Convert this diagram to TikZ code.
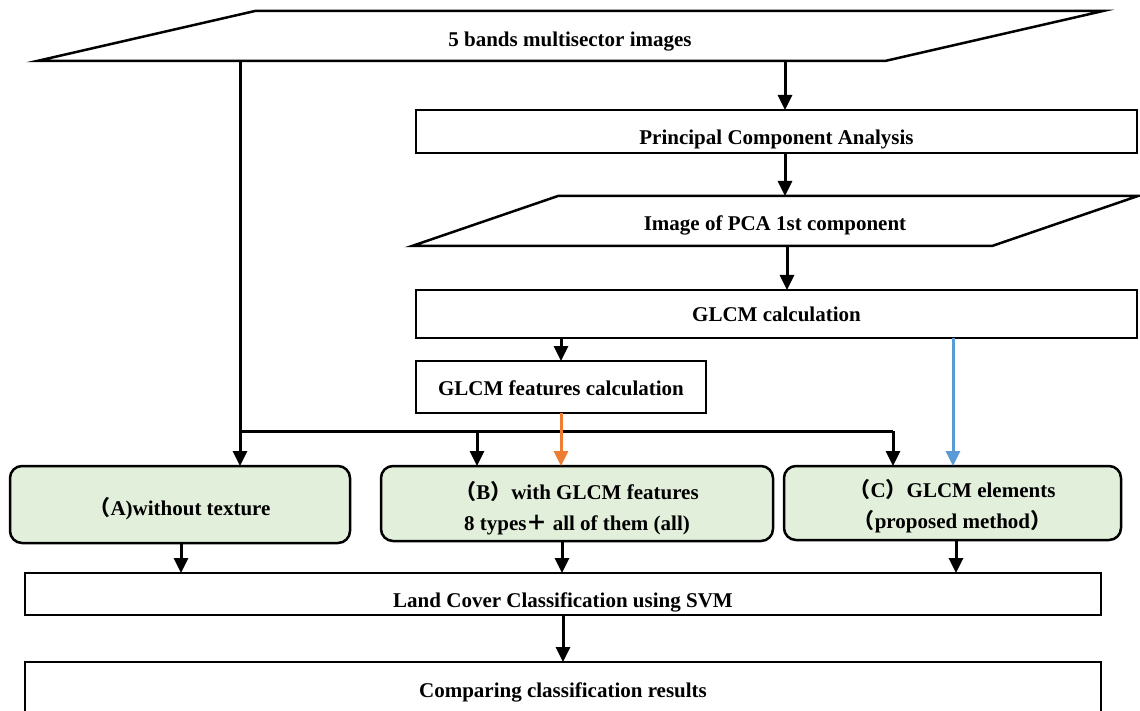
\documentclass[tikz,border=0pt]{standalone}
\usepackage{fontspec}
\setmainfont{Liberation Serif}
\newfontfamily\cjk{Noto Sans CJK SC}
\usepackage{xcolor}
\usepackage{tikz}
\usetikzlibrary{calc,arrows.meta}

\definecolor{boxgreen}{HTML}{E2EFDA}
\definecolor{featorange}{HTML}{ED7D31}
\definecolor{elemblue}{HTML}{5B9BD5}

\begin{document}
\begin{tikzpicture}[x=1pt, y=-1pt, line width=2.5pt,
    font=\fontsize{21}{31}\selectfont\bfseries,
    arr/.style={-{Triangle[length=15pt,width=14pt]}, line width=3pt},
    io/.style={outer sep=0pt, inner sep=0pt, minimum height=50pt},
    stepbox/.style={draw, outer sep=0pt, inner sep=0pt},
    method/.style={draw, fill=boxgreen, rounded corners=12pt, outer sep=0pt, inner sep=0pt},
    every label/.style={align=center, inner sep=0pt}]
  \useasboundingbox (0,0) rectangle (1140,711);

  % inputs
  \node[io, minimum width=848pt, label={[yshift=-6pt]center:5 bands multisector images}] (img5) at (570,36) {};
  \draw ([xshift=-109pt]img5.south west) -- ([xshift=109pt]img5.north west)
     -- ([xshift=109pt]img5.north east) -- ([xshift=-109pt]img5.south east) -- cycle;
  \node[stepbox, minimum width=721pt, minimum height=43pt,
    label={[yshift=-8pt]center:Principal Component Analysis}] (pca) at (776.5,131.5) {};
  \node[io, minimum width=580pt, label={[yshift=-4pt]center:Image of PCA 1st component}] (pc1) at (775,221) {};
  \draw ([xshift=-73pt]pc1.south west) -- ([xshift=73pt]pc1.north west)
     -- ([xshift=73pt]pc1.north east) -- ([xshift=-73pt]pc1.south east) -- cycle;
  \node[stepbox, minimum width=721pt, minimum height=48pt,
    label={center:GLCM calculation}] (glcm) at (776.5,314) {};
  \node[stepbox, minimum width=290pt, minimum height=52pt,
    label={[yshift=-1pt]center:GLCM features calculation}] (feat) at (561,387) {};

  % methods
  \node[method, minimum width=340pt, minimum height=77pt,
    label={[yshift=-4pt]center:{{\cjk （}A)without texture}}] (ma) at (180,504.5) {};
  \node[method, minimum width=392pt, minimum height=75pt,
    label={[yshift=-5pt]center:{{\cjk （}B{\cjk ）}with GLCM features\\8 types{\cjk ＋} all of them (all)}}] (mb) at (577,503.5) {};
  \node[method, minimum width=337pt, minimum height=74pt,
    label={[yshift=-3.5pt]center:{{\cjk （}C{\cjk ）}GLCM elements\\{\cjk （}proposed method{\cjk ）}}}] (mc) at (952.5,503) {};

  % outputs
  \node[stepbox, minimum width=1076pt, minimum height=42pt,
    label={[yshift=-8pt]center:Land Cover Classification using SVM}] (svm) at (563,594) {};
  \node[stepbox, minimum width=1076pt, minimum height=56pt,
    label={[yshift=-2pt]center:Comparing classification results}] (cmp) at (563,690) {};

  \draw[arr] (img5.south -| 785,0) -- (pca.north -| 785,0);
  \draw[arr] (pca.south -| 785,0) -- (pc1.north -| 785,0);
  \draw[arr] (pc1.south -| 787,0) -- (glcm.north -| 787,0);
  \draw[arr] (glcm.south -| feat.north) -- (feat.north);
  \draw[arr] (img5.south -| 240,0) -- (ma.north -| 240,0);
  \draw[line width=3pt] (240,431) -- (893,431);
  \draw[arr] (477,431) -- (mb.north -| 477,0);
  \draw[arr] (893,431) -- (mc.north -| 893,0);
  \draw[arr, featorange] (feat.south) -- (mb.north -| feat.south);
  \draw[arr, elemblue] (glcm.south -| 953,0) -- (mc.north -| 953,0);
  \draw[arr] (ma.south -| 181,0) -- (svm.north -| 181,0);
  \draw[arr] (mb.south -| 562,0) -- (svm.north -| 562,0);
  \draw[arr] (mc.south -| 956,0) -- (svm.north -| 956,0);
  \draw[arr] (svm.south -| 563,0) -- (cmp.north -| 563,0);
\end{tikzpicture}
\end{document}
